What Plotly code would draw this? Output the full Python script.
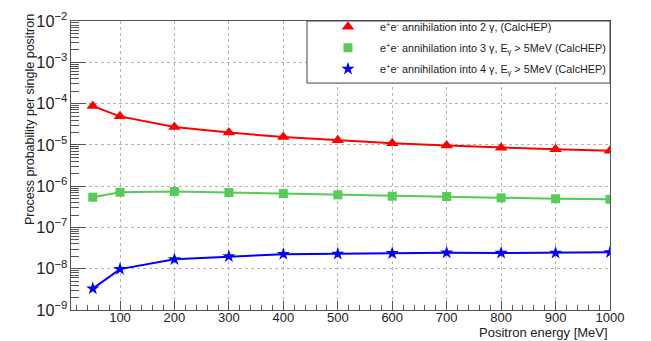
import plotly.graph_objects as go

energy = [50, 100, 200, 300, 400, 500, 600, 700, 800, 900, 1000]
prob_2g = [8.7e-5, 4.9e-5, 2.7e-5, 1.98e-5, 1.54e-5, 1.29e-5, 1.10e-5, 9.6e-6, 8.5e-6, 7.8e-6, 7.2e-6]
prob_3g = [5.4e-7, 7.1e-7, 7.4e-7, 7.0e-7, 6.6e-7, 6.15e-7, 5.7e-7, 5.6e-7, 5.2e-7, 4.95e-7, 4.8e-7]
prob_4g = [3.3e-9, 9.8e-9, 1.69e-8, 1.99e-8, 2.25e-8, 2.29e-8, 2.37e-8, 2.45e-8, 2.41e-8, 2.41e-8, 2.5e-8]

names = [
    "e<sup>+</sup>e<sup>-</sup> annihilation into 2 γ, (CalcHEP)",
    "e<sup>+</sup>e<sup>-</sup> annihilation into 3 γ, E<sub>γ</sub> > 5MeV (CalcHEP)",
    "e<sup>+</sup>e<sup>-</sup> annihilation into 4 γ, E<sub>γ</sub> > 5MeV (CalcHEP)",
]
colors = ["#ff0000", "#55cc55", "#0000ff"]
symbols = ["triangle-up", "square", "star"]
sizes = [11, 9, 10]

fig = go.Figure()
for vals, nm, c, s, sz in zip([prob_2g, prob_3g, prob_4g], names, colors, symbols, sizes):
    fig.add_trace(go.Scatter(
        x=energy, y=vals, name=nm, mode="lines+markers", showlegend=False,
        line=dict(color=c, width=2),
        marker=dict(color=c, symbol=s, size=sz, line=dict(width=0)),
    ))
# legend entries show markers only (as in the reference)
for i, (nm, c, s, sz) in enumerate(zip(names, colors, symbols, sizes)):
    fig.add_trace(go.Scatter(
        x=[None], y=[None], name=nm, mode="markers", showlegend=True,
        legendgroup=f"g{i}",
        marker=dict(color=c, symbol=s, size=sz, line=dict(width=0)),
    ))

FONT = "Liberation Sans, Arial, sans-serif"

fig.update_layout(
    width=651, height=341,
    margin=dict(l=71, r=41, t=12, b=31),
    paper_bgcolor="white", plot_bgcolor="white",
    font=dict(family=FONT, size=13, color="#222222"),
    showlegend=True,
    legend=dict(
        x=0.4545, y=1.03, xanchor="left", yanchor="top",
        bgcolor="rgba(0,0,0,0)", borderwidth=0,
        font=dict(family=FONT, size=10.8, color="#222222"),
        itemwidth=54, tracegroupgap=2,
    ),
    shapes=[
        dict(type="rect", xref="paper", yref="paper", x0=0.4378, x1=1.0, y0=0.7852, y1=1.0,
             line=dict(color="#444444", width=1), fillcolor="white", layer="above"),
    ],
    xaxis=dict(
        range=[10, 1000], dtick=100, tick0=0, automargin=False,
        showline=True, linecolor="#555555", linewidth=1, mirror=True,
        ticks="inside", ticklen=9, tickcolor="#555555",
        showgrid=True, gridcolor="#b5b5b5", griddash="dot", gridwidth=1,
        zeroline=False, ticklabelstandoff=-5,
        tickfont=dict(size=13),
        minor=dict(ticks="inside", ticklen=5, dtick=20, tickcolor="#555555", showgrid=False),
    ),
    yaxis=dict(
        type="log", range=[-9, -2], dtick=1, automargin=False,
        exponentformat="power", showexponent="all",
        showline=True, linecolor="#555555", linewidth=1, mirror=True,
        ticks="inside", ticklen=15, tickcolor="#555555",
        showgrid=True, gridcolor="#b5b5b5", griddash="dot", gridwidth=1,
        zeroline=False,
        tickfont=dict(size=13),
        minor=dict(ticks="inside", ticklen=8, dtick="D1", tickcolor="#555555", showgrid=False),
    ),
    annotations=[
        dict(text="Positron energy [MeV]", xref="paper", yref="paper",
             x=1, y=-0.077, xanchor="right", yanchor="middle", showarrow=False,
             font=dict(size=13)),
        dict(text="Process probability per single positron", xref="paper", yref="paper",
             x=-0.077, y=0.659, xanchor="center", yanchor="middle", textangle=-90,
             showarrow=False, font=dict(size=12.5)),
    ],
)

# remove the default 8px body margin so the figure fills the window exactly
fig.write_html("out.html", config={"displayModeBar": False},
               post_script="document.body.style.margin='0';")
